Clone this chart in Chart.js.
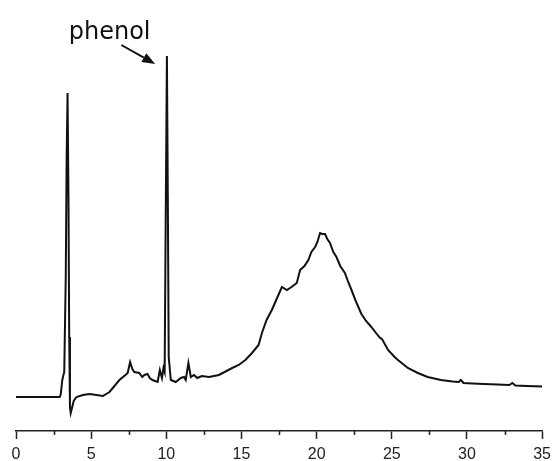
<!DOCTYPE html>
<html>
<head>
<meta charset="utf-8">
<script src="https://cdn.jsdelivr.net/npm/chart.js@4.4.1/dist/chart.umd.min.js"></script>
<style>
  html, body { margin: 0; padding: 0; background: #fff; }
  #wrap { width: 557px; height: 461px; }
</style>
</head>
<body>
<div id="wrap"><canvas id="chrom"></canvas></div>
<script>
// retention time (min) and detector signal (arbitrary units, baseline = 0)
const times = [
  0, 2.91, 2.98, 3.08, 3.14, 3.21, 3.31, 3.37, 3.43, 3.49, 3.54, 3.59, 3.64, 3.74, 3.84,
  4.02, 4.45, 4.90, 5.36, 5.78, 6.22, 6.55, 6.88, 7.28, 7.43, 7.59, 7.74, 7.87, 8.20,
  8.40, 8.54, 8.75, 8.90, 9.08, 9.42, 9.57, 9.71, 9.81, 9.89, 9.96, 10.04, 10.10, 10.16,
  10.30, 10.63, 10.96, 11.18, 11.29, 11.47, 11.63, 11.84, 12.06, 12.37, 12.84, 13.50,
  14.38, 14.82, 15.26, 15.70, 16.14, 16.36, 16.67, 17.02, 17.34, 17.69, 18.02, 18.33,
  18.68, 18.90, 19.19, 19.45, 19.65, 19.90, 20.05, 20.23, 20.38, 20.56, 20.71, 20.89,
  21.11, 21.32, 21.57, 21.88, 22.10, 22.32, 22.63, 22.98, 23.29, 23.64, 23.95, 24.22,
  24.35, 24.75, 25.19, 25.41, 26.07, 26.73, 27.39, 28.27, 29.05, 29.45, 29.59, 29.77,
  30.37, 31.14, 32.02, 32.82, 33.02, 33.22, 34.01, 35.0
];
const signal = [
  0, 0, 3, 17, 21, 25, 120, 240, 304, 200, 60, -10, -16, -10, -4,
  0, 2, 3, 2, 1, 5, 11, 17, 22, 24, 35, 28, 25, 24,
  20, 22, 23, 19, 17, 15, 27, 19, 29, 25, 180, 341, 200, 40,
  17, 15, 19, 20, 17, 34, 20, 22, 19, 21, 20, 22,
  29, 32, 37, 44, 52, 64, 77, 87, 98, 110, 107, 110,
  114, 127, 131, 137, 145, 150, 155, 164, 163, 163, 158, 154,
  145, 140, 131, 124, 115, 107, 95, 83, 76, 70, 64, 59,
  58, 47, 40, 37, 29, 24, 20, 17, 15.5, 15, 17, 14,
  13.5, 13, 12.5, 12, 14, 11.5, 11, 10.5
];
const majorTicks = [0, 5, 10, 15, 20, 25, 30, 35];
const minorTicks = [2.5, 7.5, 12.5, 17.5, 22.5, 27.5, 32.5];

// annotation: label position and arrow (data units)
const phenolText = 'phenol';
const phenolLabel = { x: 3.51, y: 358 };
const phenolArrow = { x0: 7.01, y0: 352, x1: 9.26, y1: 333 };

const extras = {
  id: 'extras',
  afterDraw(chart) {
    const { ctx, scales: { x, y } } = chart;
    const axisY = chart.chartArea.bottom;
    ctx.save();
    // minor ticks
    ctx.strokeStyle = '#222';
    ctx.lineWidth = 1.5;
    minorTicks.forEach(v => {
      const px = Math.round(x.getPixelForValue(v)) + 0.5;
      ctx.beginPath();
      ctx.moveTo(px, axisY);
      ctx.lineTo(px, axisY + 4);
      ctx.stroke();
    });
    // label
    ctx.fillStyle = '#111';
    ctx.font = '24px "DejaVu Sans"';
    ctx.textBaseline = 'alphabetic';
    ctx.fillText(phenolText, x.getPixelForValue(phenolLabel.x), y.getPixelForValue(phenolLabel.y));
    // arrow
    const ax0 = x.getPixelForValue(phenolArrow.x0), ay0 = y.getPixelForValue(phenolArrow.y0);
    const ax1 = x.getPixelForValue(phenolArrow.x1), ay1 = y.getPixelForValue(phenolArrow.y1);
    const ang = Math.atan2(ay1 - ay0, ax1 - ax0);
    const hl = 13, hw = 5;
    ctx.strokeStyle = '#111';
    ctx.lineWidth = 2;
    ctx.beginPath();
    ctx.moveTo(ax0, ay0);
    ctx.lineTo(ax1 - hl * Math.cos(ang), ay1 - hl * Math.sin(ang));
    ctx.stroke();
    ctx.beginPath();
    ctx.moveTo(ax1, ay1);
    ctx.lineTo(ax1 - hl * Math.cos(ang) + hw * Math.sin(ang), ay1 - hl * Math.sin(ang) - hw * Math.cos(ang));
    ctx.lineTo(ax1 - hl * Math.cos(ang) - hw * Math.sin(ang), ay1 - hl * Math.sin(ang) + hw * Math.cos(ang));
    ctx.closePath();
    ctx.fill();
    ctx.restore();
  }
};

new Chart(document.getElementById('chrom'), {
  type: 'line',
  data: {
    datasets: [{
      data: times.map((t, i) => ({ x: t, y: signal[i] })),
      borderColor: '#111',
      borderWidth: 2,
      pointRadius: 0,
      tension: 0,
      fill: false
    }]
  },
  options: {
    responsive: true,
    maintainAspectRatio: false,
    animation: false,
    layout: { padding: { left: 16, right: 12, top: 40, bottom: 0 } },
    plugins: { legend: { display: false }, tooltip: { enabled: false } },
    scales: {
      x: {
        type: 'linear',
        min: 0,
        max: 35,
        afterBuildTicks: scale => { scale.ticks = majorTicks.map(v => ({ value: v })); },
        afterFit: scale => { scale.height = 30; },
        grid: { drawOnChartArea: false, drawTicks: true, tickLength: 8, tickColor: '#222', tickWidth: 1.5 },
        border: { display: true, color: '#222', width: 1.5 },
        ticks: { color: '#222', font: { family: '"Liberation Sans", Arial', size: 16 }, padding: 6, maxRotation: 0 }
      },
      y: {
        display: false,
        min: -34,
        max: 357
      }
    }
  },
  plugins: [extras]
});
</script>
</body>
</html>
